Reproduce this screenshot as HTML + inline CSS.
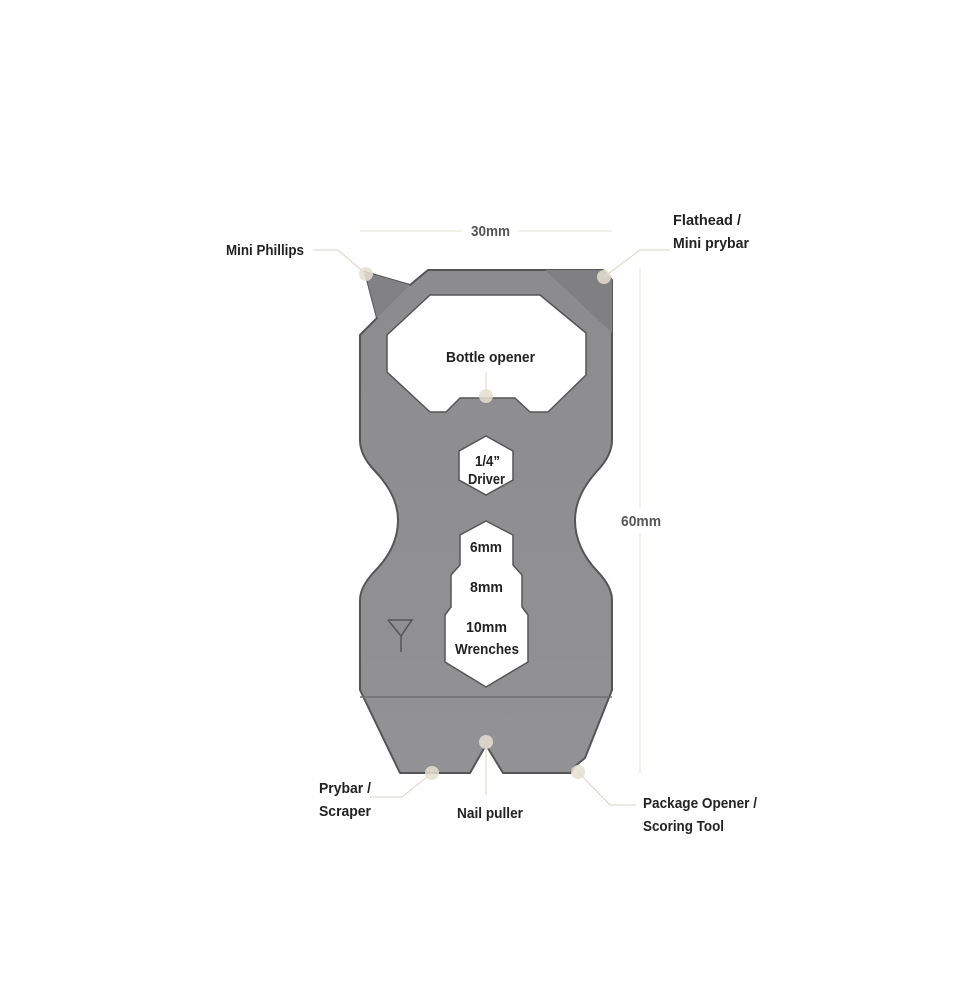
<!DOCTYPE html>
<html><head><style>
html,body{margin:0;padding:0;background:#fff;}
svg text{font-family:"Liberation Sans Narrow","Liberation Sans",sans-serif;font-weight:bold;font-size:15px;fill:#222;}
</style></head><body>
<svg width="980" height="980" viewBox="0 0 980 980" xmlns="http://www.w3.org/2000/svg">
<defs>
<linearGradient id="g" x1="0" y1="0" x2="0" y2="1"><stop offset="0" stop-color="#8c8c8e"/><stop offset="1" stop-color="#929294"/></linearGradient>
</defs>
<line x1="360" y1="231" x2="462" y2="231" stroke="#e6e2d6" stroke-width="1"/>
<line x1="518" y1="231" x2="612" y2="231" stroke="#e6e2d6" stroke-width="1"/>
<text x="471" y="236" textLength="39" lengthAdjust="spacingAndGlyphs" style="fill:#555">30mm</text>
<line x1="640" y1="268" x2="640" y2="508" stroke="#e6e2d6"/>
<line x1="640" y1="534" x2="640" y2="773" stroke="#e6e2d6"/>
<text x="621" y="526" textLength="40" lengthAdjust="spacingAndGlyphs" style="fill:#555">60mm</text>
<path d="M428,270 L603,270 L612,280 L612,440 Q612,455 598,470 Q575,495 575,520 Q575,548 598,572 Q612,587 612,600 L612,690 L585,758 L574,767 L571,773 L503,773 L486,745 L470,773 L400,773 L360,690 L360,600 Q360,587 374,572 Q398,548 398,520 Q398,495 374,470 Q360,455 360,440 L360,335 L377,318 L365,272 L410,285 Z" fill="url(#g)" stroke="#555" stroke-width="2" stroke-linejoin="round"/>
<path d="M545,270 L603,270 L612,280 L612,333 Z" fill="#808082"/>
<path d="M365,272 L410,285 L377,318 Z" fill="#828284"/>
<line x1="360" y1="697" x2="612" y2="697" stroke="#707072" stroke-width="1.5"/>
<path d="M430,295 L540,295 L586,333 L586,375 L548,412 L530,412 L515,398 L460,398 L446,412 L430,412 L387,372 L387,335 Z" fill="#fff" stroke="#555" stroke-width="1.5" stroke-linejoin="round"/>
<path d="M486,436 L513,451 L513,480 L486,495 L459,480 L459,451 Z" fill="#fff" stroke="#555" stroke-width="1.5"/>
<path d="M486,521 L513,535 L513,565 L522,575 L522,607 L528,615 L528,662 L486,687 L445,662 L445,615 L451,607 L451,575 L460,565 L460,535 Z" fill="#fff" stroke="#555" stroke-width="1.5" stroke-linejoin="round"/>
<path d="M388,620 L412,620 L401,636 L401,652 M388,620 L401,636" fill="none" stroke="#555" stroke-width="1.5"/>
<text x="446" y="362" textLength="89" lengthAdjust="spacingAndGlyphs">Bottle opener</text>
<text x="475" y="466" textLength="25" lengthAdjust="spacingAndGlyphs">1/4”</text>
<text x="468" y="484" textLength="37" lengthAdjust="spacingAndGlyphs">Driver</text>
<text x="470" y="552" textLength="32" lengthAdjust="spacingAndGlyphs">6mm</text>
<text x="470" y="592" textLength="33" lengthAdjust="spacingAndGlyphs">8mm</text>
<text x="466" y="632" textLength="41" lengthAdjust="spacingAndGlyphs">10mm</text>
<text x="455" y="654" textLength="64" lengthAdjust="spacingAndGlyphs">Wrenches</text>
<g stroke="#d8d3c5" stroke-width="1" fill="none">
<polyline points="313,250 338,250 366,274"/>
<polyline points="670,250 640,250 604,277"/>
<line x1="486" y1="372" x2="486" y2="396"/>
<line x1="486" y1="745" x2="486" y2="795"/>
<polyline points="432,773 402,797 370,797"/>
<polyline points="578,772 610,805 636,805"/>
</g>
<g fill="#e4dfd0" opacity="0.85">
<circle cx="366" cy="274" r="7"/><circle cx="604" cy="277" r="7"/>
<circle cx="486" cy="396" r="7"/><circle cx="486" cy="742" r="7"/>
<circle cx="432" cy="773" r="7"/><circle cx="578" cy="772" r="7"/>
</g>
<text x="226" y="255" textLength="78" lengthAdjust="spacingAndGlyphs">Mini Phillips</text>
<text x="673" y="225" textLength="68" lengthAdjust="spacingAndGlyphs">Flathead /</text>
<text x="673" y="248" textLength="76" lengthAdjust="spacingAndGlyphs">Mini prybar</text>
<text x="319" y="793" textLength="52" lengthAdjust="spacingAndGlyphs">Prybar /</text>
<text x="319" y="816" textLength="52" lengthAdjust="spacingAndGlyphs">Scraper</text>
<text x="457" y="818" textLength="66" lengthAdjust="spacingAndGlyphs">Nail puller</text>
<text x="643" y="808" textLength="114" lengthAdjust="spacingAndGlyphs">Package Opener /</text>
<text x="643" y="831" textLength="81" lengthAdjust="spacingAndGlyphs">Scoring Tool</text>
</svg>
</body></html>
